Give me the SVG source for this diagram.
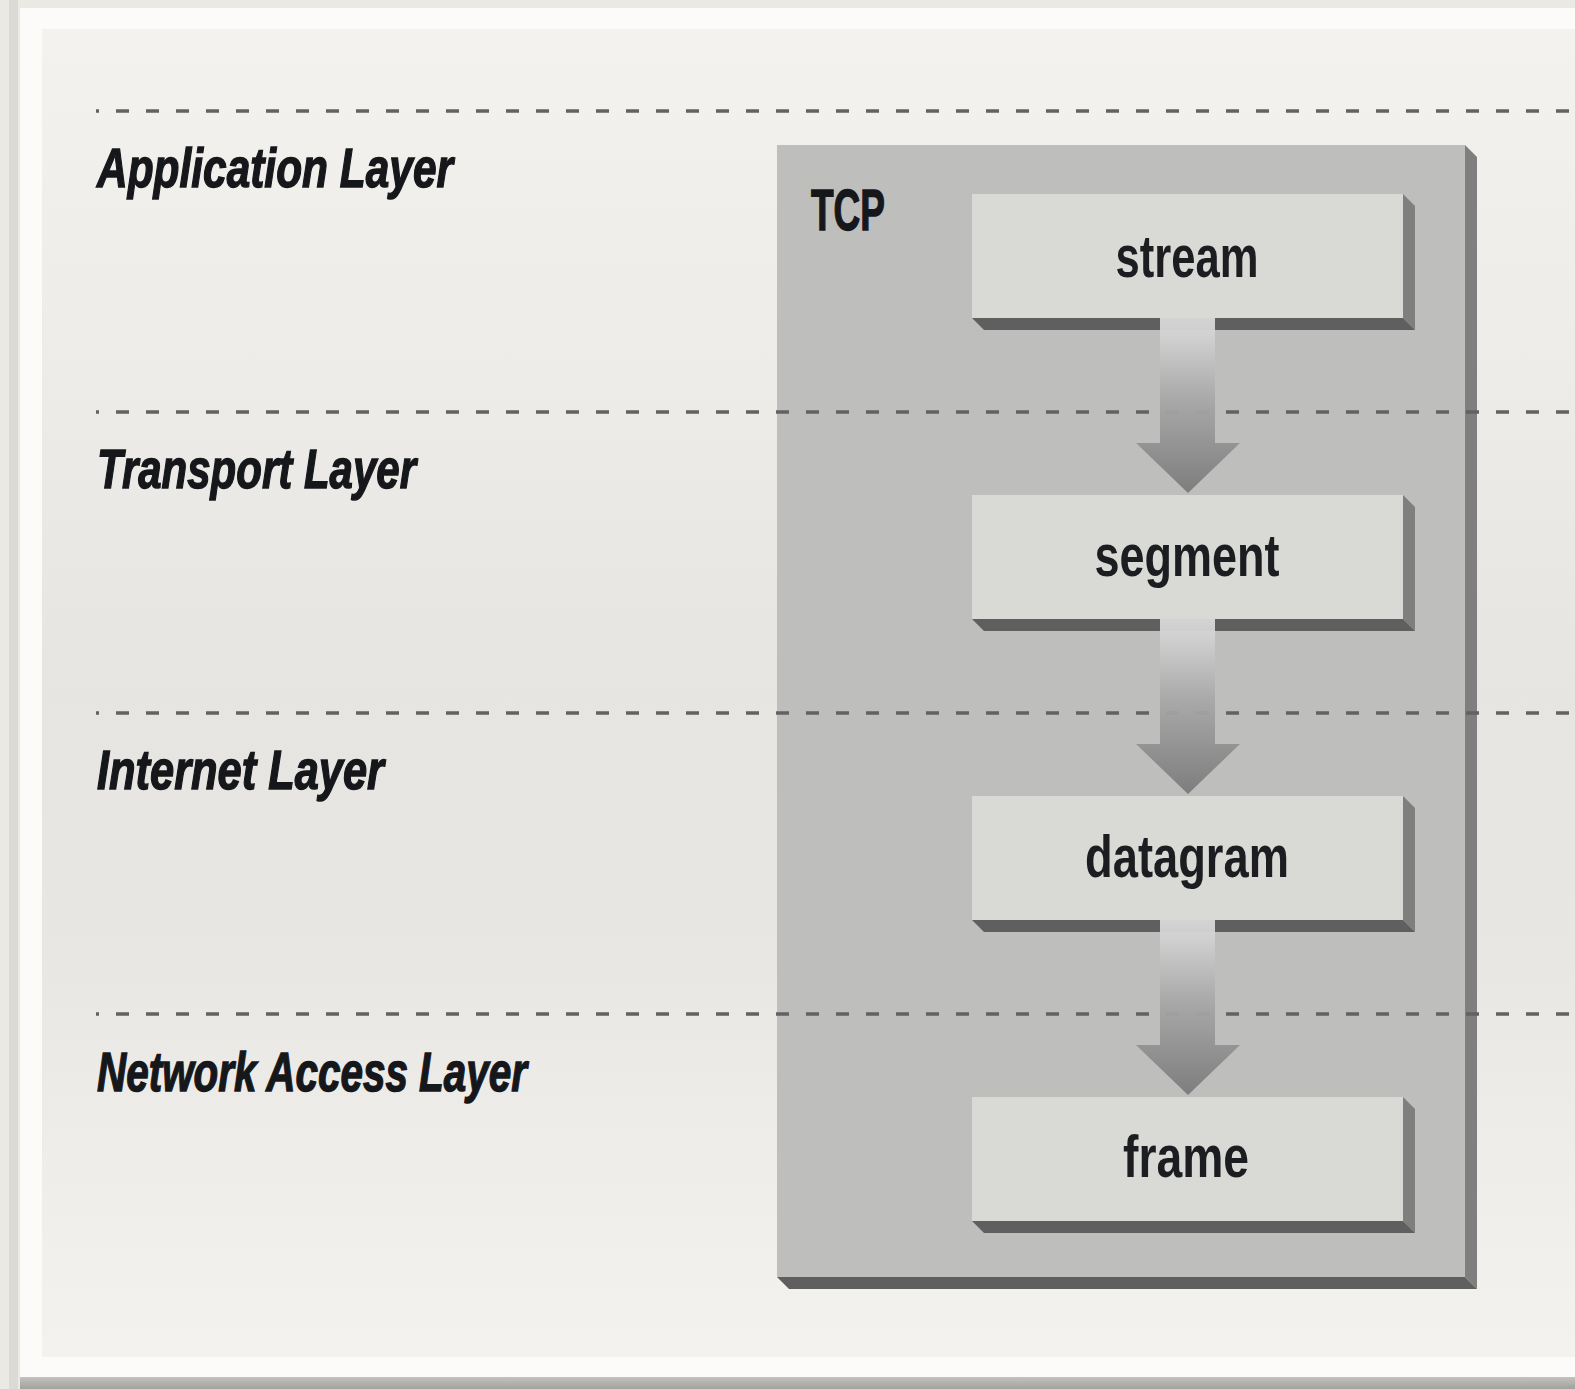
<svg xmlns="http://www.w3.org/2000/svg" width="1575" height="1389" viewBox="0 0 1575 1389">
  <defs>
    <linearGradient id="panelFill" x1="0" y1="0" x2="0" y2="1">
      <stop offset="0" stop-color="#f4f2ee"/>
      <stop offset="0.25" stop-color="#eeece8"/>
      <stop offset="0.5" stop-color="#e6e5e2"/>
      <stop offset="0.7" stop-color="#e8e7e4"/>
      <stop offset="0.9" stop-color="#f1efeb"/>
      <stop offset="1" stop-color="#f4f2ee"/>
    </linearGradient>
    <linearGradient id="arrowFill" x1="0" y1="0" x2="0" y2="1">
      <stop offset="0" stop-color="#dadada"/>
      <stop offset="0.12" stop-color="#d0d0d0"/>
      <stop offset="0.45" stop-color="#a9a9a9"/>
      <stop offset="0.72" stop-color="#929292"/>
      <stop offset="1" stop-color="#7a7a7a"/>
    </linearGradient>
    <linearGradient id="baseShade" x1="0" y1="0" x2="0" y2="1">
      <stop offset="0" stop-color="#c4c2be"/>
      <stop offset="1" stop-color="#a3a19d"/>
    </linearGradient>
  </defs>
  <style>
    .sep { fill: none; stroke: #626262; stroke-width: 3.5; stroke-dasharray: 13 17; stroke-dashoffset: 10; }
    .layer { font-family: "Liberation Sans", Arial, sans-serif; font-weight: bold; font-style: italic; font-size: 55px; fill: #16171b; stroke: #16171b; stroke-width: 1.4; }
    .tcp-title { font-family: "Liberation Sans", Arial, sans-serif; font-weight: bold; font-size: 58px; fill: #16171b; stroke: #16171b; stroke-width: 1.4; }
    .unit { font-family: "Liberation Sans", Arial, sans-serif; font-weight: bold; font-size: 60px; fill: #1c1d21; text-anchor: middle; }
    .tcp-body { fill: #bebebd; }
    .box-body { fill: #d9dad6; }
    .edge-bottom { fill: #5f5f5f; }
    .edge-side { fill: #7f7f7f; }
    .arrow { fill: url(#arrowFill); opacity: 0.95; }
  </style>

  <!-- page, white mount and inner panel -->
  <g id="backdrop">
    <rect x="0" y="0" width="1575" height="1389" fill="#ebe9e4"/>
    <rect x="9" y="0" width="9" height="1389" fill="#dcdad5"/>
    <rect x="20" y="8" width="1560" height="1369" fill="#fcfbf9"/>
    <rect x="42" y="29" width="1540" height="1328" fill="url(#panelFill)"/>
    <rect x="20" y="1377" width="1560" height="12" fill="url(#baseShade)"/>
  </g>

  <!-- TCP container -->
  <g id="tcp">
    <polygon class="edge-side" points="1465,145 1477,157 1477,1289 1465,1277"/>
    <polygon class="edge-bottom" points="777,1277 1465,1277 1477,1289 789,1289"/>
    <rect class="tcp-body" x="777" y="145" width="688" height="1132"/>
    <text class="tcp-title" x="811" y="230" textLength="74" lengthAdjust="spacingAndGlyphs">TCP</text>
  </g>

  <!-- layer separators -->
  <g id="separators">
    <path class="sep" d="M96 111 H1575"/>
    <path class="sep" d="M96 412 H1575"/>
    <path class="sep" d="M96 713 H1575"/>
    <path class="sep" d="M96 1014 H1575"/>
  </g>

  <!-- layer names -->
  <g id="layer-application">
    <text class="layer" x="97" y="187" textLength="356" lengthAdjust="spacingAndGlyphs">Application Layer</text>
  </g>
  <g id="layer-transport">
    <text class="layer" x="97" y="488" textLength="319" lengthAdjust="spacingAndGlyphs">Transport Layer</text>
  </g>
  <g id="layer-internet">
    <text class="layer" x="97" y="789" textLength="287" lengthAdjust="spacingAndGlyphs">Internet Layer</text>
  </g>
  <g id="layer-network-access">
    <text class="layer" x="97" y="1091" textLength="430" lengthAdjust="spacingAndGlyphs">Network Access Layer</text>
  </g>

  <!-- data units -->
  <g id="stream">
    <polygon class="edge-side" points="1403,194 1415,206 1415,330 1403,318"/>
    <polygon class="edge-bottom" points="972,318 1403,318 1415,330 984,330"/>
    <rect class="box-body" x="972" y="194" width="431" height="124"/>
    <text class="unit" x="1187" y="277" textLength="143" lengthAdjust="spacingAndGlyphs">stream</text>
  </g>
  <g id="segment">
    <polygon class="edge-side" points="1403,495 1415,507 1415,631 1403,619"/>
    <polygon class="edge-bottom" points="972,619 1403,619 1415,631 984,631"/>
    <rect class="box-body" x="972" y="495" width="431" height="124"/>
    <text class="unit" x="1187" y="576" textLength="185" lengthAdjust="spacingAndGlyphs">segment</text>
  </g>
  <g id="datagram">
    <polygon class="edge-side" points="1403,796 1415,808 1415,932 1403,920"/>
    <polygon class="edge-bottom" points="972,920 1403,920 1415,932 984,932"/>
    <rect class="box-body" x="972" y="796" width="431" height="124"/>
    <text class="unit" x="1187" y="877" textLength="204" lengthAdjust="spacingAndGlyphs">datagram</text>
  </g>
  <g id="frame">
    <polygon class="edge-side" points="1403,1097 1415,1109 1415,1233 1403,1221"/>
    <polygon class="edge-bottom" points="972,1221 1403,1221 1415,1233 984,1233"/>
    <rect class="box-body" x="972" y="1097" width="431" height="124"/>
    <text class="unit" x="1186" y="1177" textLength="126" lengthAdjust="spacingAndGlyphs">frame</text>
  </g>

  <!-- encapsulation arrows -->
  <g id="connectors">
    <path class="arrow" d="M1160 318 H1215 V443 H1240 L1188 493 L1136 443 H1160 Z"/>
    <path class="arrow" d="M1160 619 H1215 V744 H1240 L1188 794 L1136 744 H1160 Z"/>
    <path class="arrow" d="M1160 920 H1215 V1045 H1240 L1188 1095 L1136 1045 H1160 Z"/>
  </g>
</svg>
